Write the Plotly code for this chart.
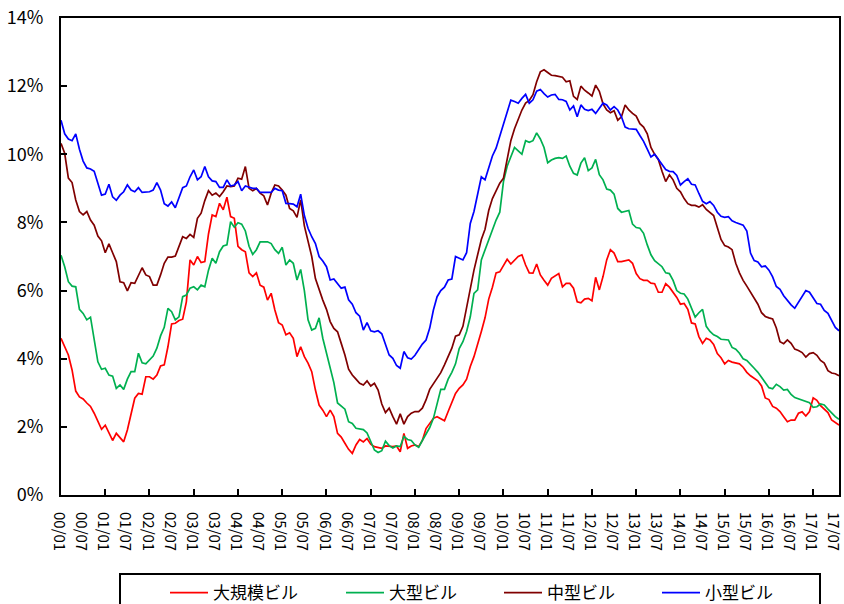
import plotly.graph_objects as go

# monthly index: 2000/01 .. 2017/08
years = list(range(0, 18))
months = [(y, m) for y in years for m in range(1, 13)][:212]
x_idx = list(range(len(months)))

names = ["大規模ビル", "大型ビル", "中型ビル", "小型ビル"]
colors = ["#FF0000", "#00B050", "#800000", "#0000FF"]

large_scale = [
    4.6, 4.35, 4.11, 3.67, 3.05, 2.88, 2.82, 2.7, 2.6, 2.4, 2.15, 1.93,
    2.05, 1.81, 1.6, 1.81, 1.69, 1.56, 1.91, 2.4, 2.84, 2.98, 2.96, 3.47,
    3.47, 3.4, 3.52, 3.79, 3.82, 4.35, 5.02, 5.04, 5.12, 5.16, 5.67, 6.9,
    6.75, 7.0, 6.82, 6.85, 7.66, 8.22, 8.17, 8.56, 8.37, 8.74, 8.17, 8.12,
    7.3, 7.2, 7.14, 6.52, 6.41, 6.52, 6.16, 6.1, 5.72, 5.92, 5.43, 5.06,
    4.99, 4.7, 4.76, 4.6, 4.06, 4.35, 4.06, 3.87, 3.62, 3.08, 2.64, 2.49,
    2.3, 2.49, 2.3, 1.81, 1.7, 1.52, 1.34, 1.22, 1.47, 1.63, 1.56, 1.66,
    1.49, 1.42, 1.4, 1.37, 1.44, 1.42, 1.42, 1.44, 1.27, 1.81, 1.37, 1.44,
    1.47, 1.42, 1.6, 1.95, 2.1, 2.25, 2.3, 2.25, 2.18, 2.45, 2.71, 2.98,
    3.13, 3.23, 3.4, 3.77, 4.06, 4.4, 4.8, 5.2, 5.75, 6.1, 6.52, 6.55,
    6.75, 6.92, 6.78, 6.9, 7.0, 7.05, 6.75, 6.52, 6.51, 6.78, 6.46, 6.3,
    6.16, 6.36, 6.43, 6.5, 6.11, 6.21, 6.21, 6.07, 5.67, 5.64, 5.75, 5.77,
    5.7, 6.39, 6.02, 6.41, 6.9, 7.2, 7.1, 6.85, 6.85, 6.88, 6.9, 6.8,
    6.5, 6.35, 6.3, 6.3, 6.22, 6.2, 5.95, 5.95, 6.2, 6.1, 5.95, 5.8,
    5.6, 5.62, 5.45, 5.05, 5.02, 4.65, 4.45, 4.6, 4.55, 4.42, 4.15, 4.03,
    3.85, 3.95, 3.9, 3.87, 3.85, 3.75, 3.6, 3.5, 3.43, 3.35, 3.2, 2.85,
    2.8, 2.6, 2.55, 2.45, 2.3, 2.15, 2.2, 2.2, 2.4, 2.44, 2.32, 2.45,
    2.85, 2.78, 2.62, 2.52, 2.42, 2.2, 2.12, 2.05,
]

large = [
    7.04, 6.7, 6.26, 6.13, 6.11, 5.45, 5.33, 5.14, 5.22, 4.55, 3.91, 3.69,
    3.72, 3.52, 3.49, 3.13, 3.23, 3.1, 3.4, 3.62, 3.62, 4.16, 3.88, 3.85,
    3.96, 4.08, 4.31, 4.67, 4.92, 5.48, 5.38, 5.14, 5.23, 5.82, 5.87, 6.07,
    6.11, 6.02, 6.16, 6.11, 6.6, 6.95, 6.8, 7.14, 7.31, 7.34, 8.02, 7.86,
    7.99, 7.95, 7.75, 7.3, 7.06, 7.2, 7.43, 7.43, 7.43, 7.38, 7.2, 7.09,
    7.27, 6.75, 6.9, 6.8, 6.31, 6.62, 6.0, 5.14, 4.84, 4.89, 5.2, 4.6,
    4.16, 3.67, 3.3, 2.7, 2.62, 2.52, 2.15, 2.1, 1.96, 1.93, 1.92, 1.82,
    1.55, 1.32, 1.25, 1.3, 1.58, 1.45, 1.38, 1.44, 1.42, 1.72, 1.63, 1.6,
    1.47, 1.4, 1.6, 1.8, 1.98, 2.25, 2.65, 3.1, 3.1, 3.4, 3.6, 3.85,
    4.3, 4.5, 4.8, 5.23, 5.92, 6.02, 6.9, 7.2, 7.45, 7.78, 8.07, 8.3,
    9.2, 9.65, 9.95, 10.2, 10.1, 10.0, 10.4, 10.35, 10.4, 10.63, 10.45, 10.2,
    9.75, 9.83, 9.88, 9.9, 9.88, 9.95, 9.65, 9.44, 9.39, 9.74, 9.9, 9.52,
    9.6, 9.85, 9.4, 9.25, 8.98, 8.95, 8.83, 8.41, 8.3, 8.32, 8.35, 7.95,
    7.85, 7.83, 7.68, 7.34, 7.05, 6.88, 6.8, 6.7, 6.52, 6.5, 6.3, 6.0,
    5.92, 5.9, 5.75, 5.5, 5.22, 5.35, 5.45, 4.95, 4.8, 4.7, 4.65, 4.57,
    4.55, 4.55, 4.33, 4.28, 4.16, 4.0, 3.95, 3.82, 3.72, 3.6, 3.45, 3.3,
    3.15, 3.12, 3.25, 3.18, 3.08, 3.1, 2.95, 2.86, 2.82, 2.78, 2.74, 2.71,
    2.57, 2.59, 2.67, 2.64, 2.52, 2.4, 2.3, 2.22,
]

medium = [
    10.32, 10.03, 9.3, 9.17, 8.66, 8.32, 8.22, 8.32, 8.07, 7.92, 7.6, 7.46,
    7.11, 7.37, 7.11, 6.85, 6.26, 6.23, 5.99, 6.23, 6.21, 6.46, 6.67, 6.46,
    6.41, 6.16, 6.16, 6.46, 6.8, 6.98, 6.98, 7.01, 7.29, 7.58, 7.53, 7.65,
    7.56, 8.12, 8.27, 8.64, 8.93, 8.8, 8.86, 8.76, 8.9, 9.07, 9.05, 9.07,
    9.3, 9.27, 9.64, 9.0, 8.93, 9.0, 8.86, 8.78, 8.51, 8.86, 9.1, 9.07,
    8.95, 8.8, 8.41, 8.34, 8.15, 8.66, 7.9, 7.4, 7.0, 6.35, 6.0, 5.72,
    5.45, 5.09, 4.89, 4.79, 4.45, 4.11, 3.69, 3.52, 3.4, 3.28, 3.23, 3.35,
    3.2, 3.28, 3.08, 2.67, 2.42, 2.55, 2.3, 2.08, 2.38, 2.08, 2.3, 2.4,
    2.45, 2.45, 2.55, 2.79, 3.1, 3.26, 3.45, 3.59, 3.82, 4.05, 4.31, 4.66,
    4.7, 4.95, 5.5, 6.13, 6.6, 7.05, 7.5, 7.8, 8.35, 8.7, 8.95, 9.15,
    9.3, 9.9, 10.4, 10.75, 11.05, 11.3, 11.5, 11.58, 11.75, 12.13, 12.42, 12.48,
    12.4, 12.32, 12.31, 12.28, 12.26, 12.13, 12.16, 11.7, 11.61, 12.0, 11.88, 11.8,
    11.71, 12.03, 11.85, 11.48, 11.3, 11.22, 11.28, 11.0, 11.1, 11.45, 11.3, 11.2,
    11.12, 10.9, 10.8, 10.6, 10.2, 10.0, 9.85, 9.5, 9.2, 9.4, 9.25, 9.0,
    8.9, 8.7, 8.55, 8.5, 8.5, 8.45, 8.52, 8.38, 8.3, 8.2, 7.85, 7.5,
    7.32, 7.28, 7.2, 6.8, 6.52, 6.3, 6.13, 5.95, 5.78, 5.6, 5.35, 5.24,
    5.2, 5.17, 4.9, 4.5, 4.44, 4.55, 4.45, 4.28, 4.24, 4.18, 4.05, 4.15,
    4.18, 4.1, 3.95, 3.87, 3.65, 3.58, 3.56, 3.5,
]

small = [
    11.0, 10.6, 10.45, 10.4, 10.6, 10.15, 9.8, 9.6, 9.57, 9.5, 9.15, 8.8,
    8.83, 9.12, 8.75, 8.65, 8.8, 8.9, 9.1, 8.95, 8.9, 9.02, 8.88, 8.88,
    8.9, 8.95, 9.17, 8.95, 8.55, 8.48, 8.6, 8.43, 8.7, 9.02, 9.07, 9.34,
    9.54, 9.25, 9.34, 9.64, 9.34, 9.22, 9.2, 9.03, 9.03, 9.25, 9.07, 9.1,
    9.2, 8.93, 9.07, 9.03, 9.0, 9.0, 8.88, 8.88, 8.88, 8.88, 9.0, 8.95,
    8.93, 8.56, 8.55, 8.54, 8.46, 8.83, 8.2, 7.83, 7.58, 7.38, 7.0, 6.87,
    6.7, 6.31, 6.34, 6.2, 6.07, 6.1, 5.73, 5.6, 5.35, 5.25, 4.84, 5.06,
    4.82, 4.79, 4.82, 4.73, 4.45, 4.11, 4.01, 3.8, 3.72, 4.21, 4.03, 3.99,
    4.1, 4.26, 4.43, 4.55, 4.9, 5.43, 5.82, 6.0, 6.1, 6.31, 6.34, 7.0,
    6.95, 6.9, 7.11, 7.97, 8.32, 8.86, 9.34, 9.25, 9.6, 9.95, 10.18, 10.54,
    10.91, 11.2, 11.59, 11.55, 11.5, 11.64, 11.76, 11.5, 11.6, 11.85, 11.9, 11.78,
    11.68, 11.74, 11.76, 11.61, 11.6, 11.55, 11.3, 11.42, 11.1, 11.45, 11.32, 11.28,
    11.32, 11.2, 11.35, 11.5, 11.45, 11.3, 11.4, 11.3, 11.1, 10.8, 10.75, 10.75,
    10.73, 10.55, 10.38, 10.15, 9.92, 10.0, 9.85, 9.72, 9.55, 9.5, 9.49, 9.38,
    9.1, 9.2, 9.28, 9.12, 9.1, 8.85, 8.62, 8.55, 8.61, 8.5, 8.3, 8.18,
    8.15, 8.17, 8.05, 8.0, 7.97, 7.92, 7.75, 7.1, 6.88, 6.84, 6.7, 6.72,
    6.6, 6.4, 6.12, 6.04, 5.85, 5.7, 5.58, 5.48, 5.65, 5.85, 6.0, 5.95,
    5.8, 5.62, 5.6, 5.42, 5.33, 5.1, 4.92, 4.82,
]

series = [large_scale, large, medium, small]

label_vals = [i for i in x_idx if i % 6 == 0]
label_text = ["%02d/%02d" % months[i] for i in label_vals]
year_ticks = [i for i in x_idx if i % 12 == 0 and i > 0]

y_vals = [0, 2, 4, 6, 8, 10, 12, 14]
y_text = ["%d%%" % v for v in y_vals]

FONT = "Noto Sans CJK JP"

W, H = 844, 604
L, R, T, B = 61, 5, 18, 109
pw, ph = W - L - R, H - T - B

def px_x(p):
    return (p - L) / pw

def px_y(p):
    return (H - B - p) / ph

legend_ids = ["legend", "legend2", "legend3", "legend4"]
legend_left_px = [165, 341, 499, 657]

fig = go.Figure()
for name, col, ys, lid in zip(names, colors, series, legend_ids):
    fig.add_trace(go.Scatter(x=x_idx, y=ys, mode="lines", name=name,
                             legend=lid,
                             line=dict(color=col, width=1.7)))

legend_layouts = {}
for lid, lx in zip(legend_ids, legend_left_px):
    legend_layouts[lid] = dict(
        orientation="h", x=px_x(lx), xanchor="left",
        y=px_y(593), yanchor="middle",
        itemwidth=38,
        font=dict(family=FONT, size=17, color="black"),
        bgcolor="rgba(0,0,0,0)", borderwidth=0,
    )

fig.update_layout(
    width=W, height=H,
    margin=dict(l=L, r=R, t=T, b=B, pad=0, autoexpand=False),
    paper_bgcolor="white", plot_bgcolor="white",
    font=dict(family=FONT, color="black"),
    showlegend=True,
    shapes=[dict(type="rect", xref="paper", yref="paper",
                 x0=px_x(120), x1=px_x(820), y0=px_y(574), y1=px_y(640),
                 line=dict(color="black", width=2), fillcolor="rgba(0,0,0,0)",
                 layer="above")],
    **legend_layouts,
)

fig.update_xaxes(
    range=[0, len(x_idx) - 1],
    automargin=False,
    tickmode="array", tickvals=label_vals, ticktext=label_text,
    tickangle=90, ticks="", ticklabelstandoff=12, ticklabelshift=-2,
    ticklabeloverflow="allow",
    tickfont=dict(family=FONT, size=15, color="black"),
    showgrid=False, zeroline=False,
    showline=True, linecolor="black", linewidth=2, mirror=True,
    minor=dict(tickmode="array", tickvals=year_ticks, ticks="inside",
               ticklen=6, tickwidth=1.5, tickcolor="black", showgrid=False),
)
fig.update_yaxes(
    range=[0, 14],
    automargin=False,
    tickmode="array", tickvals=y_vals, ticktext=y_text,
    ticks="inside", ticklen=6, tickwidth=1.5, tickcolor="black",
    ticklabelstandoff=12,
    tickfont=dict(family=FONT, size=18, color="black"),
    showgrid=False, zeroline=False,
    showline=True, linecolor="black", linewidth=2, mirror=True,
)

fig.write_html("out.html")
